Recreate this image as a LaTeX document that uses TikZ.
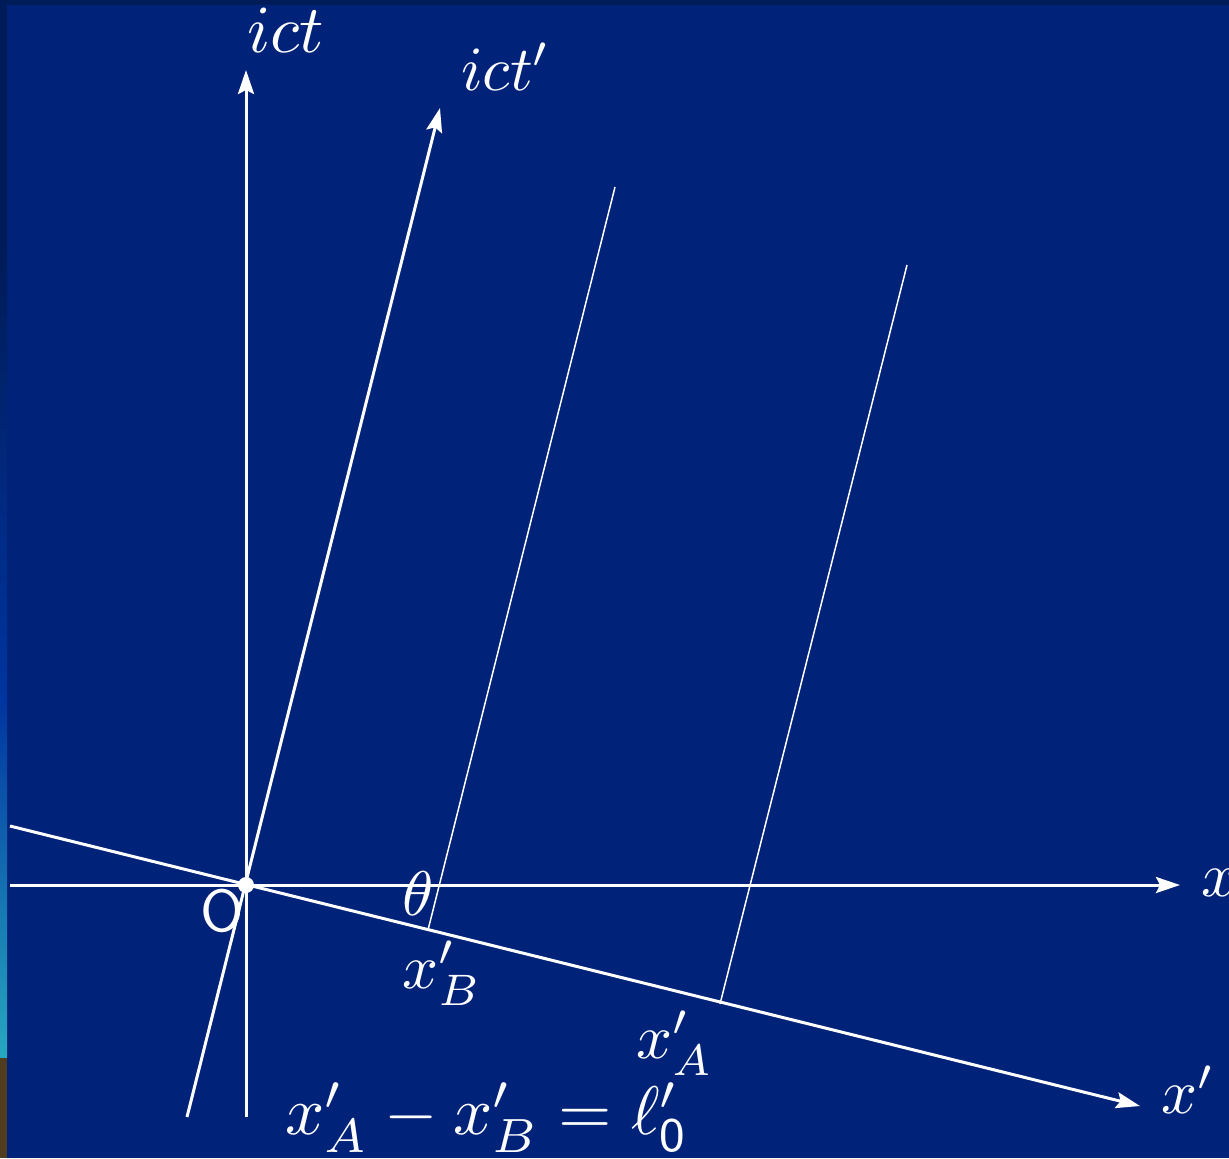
\documentclass[tikz,border=0pt]{standalone}
\usetikzlibrary{arrows.meta}
\definecolor{bgblue}{RGB}{0,34,120}
\definecolor{topnavy}{RGB}{0,28,88}
\definecolor{stripblue}{RGB}{0,52,160}
\definecolor{stripteal}{RGB}{40,168,192}
\definecolor{stripbrown}{RGB}{80,60,30}
\tikzset{
  axis/.style={white,line width=1.5pt,-{Stealth[length=12pt,width=8pt,inset=2pt]}},
  guide/.style={white,line width=0.75pt},
  lbl/.style={white,anchor=base west,inner sep=0pt,font=\normalsize,scale=3.15},
}
\begin{document}
\begin{tikzpicture}[x=0.5pt,y=-0.5pt]
\useasboundingbox (0,0) rectangle (1229,1158);
% background
\fill[bgblue] (0,0) rectangle (1229,1158);
\fill[topnavy] (0,0) rectangle (1229,5);
\fill[topnavy] (0,5) rectangle (7,250);
\shade[top color=topnavy,bottom color=stripblue] (0,250) rectangle (7,700);
\shade[top color=stripblue,bottom color=stripteal] (0,700) rectangle (7,1058);
\fill[stripbrown] (0,1058) rectangle (7,1158);
% coordinates
\coordinate (O) at (246,885);
\coordinate (xs) at (10,885);
\coordinate (xe) at (1180,885);
\coordinate (ts) at (246,1117);
\coordinate (te) at (246,70);
\coordinate (tps) at (187,1117);
\coordinate (tpe) at (440,108);
\coordinate (xps) at (10,826);
\coordinate (xpe) at (1140,1106);
\coordinate (B) at (428,930);
\coordinate (Bt) at (615,187);
\coordinate (A) at (720,1004);
\coordinate (At) at (907,265);
% guide lines
\draw[guide] (B) -- (Bt);
\draw[guide] (A) -- (At);
% axes
\draw[axis] (xs) -- (xe);
\draw[axis] (ts) -- (te);
\draw[axis] (tps) -- (tpe);
\draw[axis] (xps) -- (xpe);
% origin dot
\fill[white] (O) circle (8);
% labels
\node[lbl,scale=1.07] (lict) at (246,52) {$ict$};
\node[lbl] (lictp) at (460,90) {$ict'$};
\node[lbl] (lx) at (1200,896) {$x$};
\node[lbl] (lxp) at (1160,1113) {$x'$};
\node[lbl] (lth) at (401,915) {$\theta$};
\node[lbl] (lxB) at (401,988) {$x'_B$};
\node[lbl] (lxA) at (635,1058) {$x'_A$};
\node[lbl,font=\sffamily,scale=0.94] (lO) at (199,931) {O};
\node[lbl,scale=1.09] (eq) at (284,1134) {$x'_A - x'_B = \ell'_{\mathsf{0}}$};
\end{tikzpicture}
\end{document}
